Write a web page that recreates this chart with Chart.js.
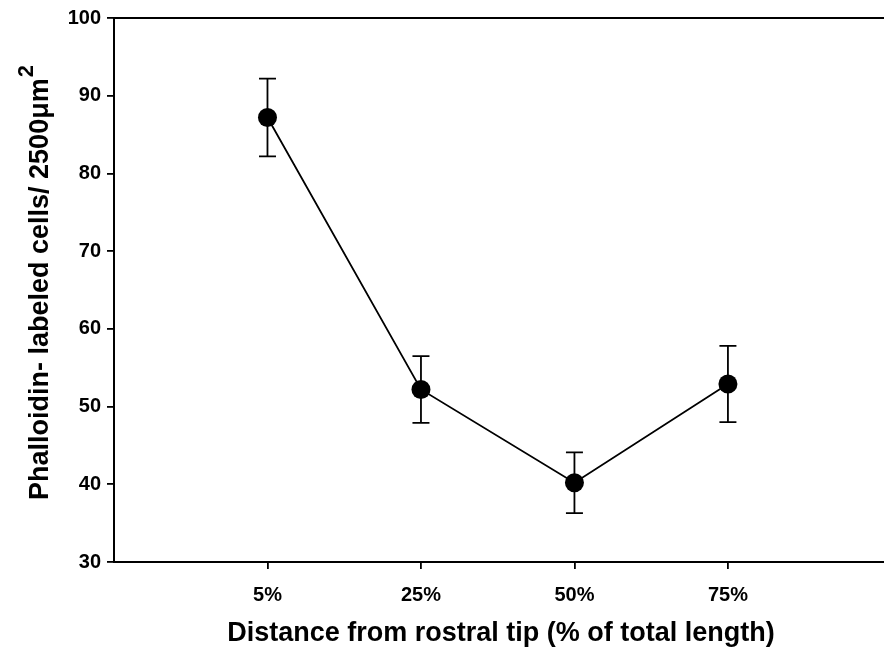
<!DOCTYPE html>
<html>
<head>
<meta charset="utf-8">
<script src="https://cdn.jsdelivr.net/npm/chart.js@4.4.0/dist/chart.umd.min.js"></script>
<style>
  html, body { margin: 0; padding: 0; background: #fff; overflow: hidden; }
  #wrap { width: 884px; height: 652px; }
</style>
</head>
<body>
<div id="wrap"><canvas id="chart" width="884" height="652"></canvas></div>
<script>
// data
var categories = ['5%', '25%', '50%', '75%'];
var positions = [1, 2, 3, 4];
var means = [87.2, 52.2, 40.2, 52.9];
var errors = [5.0, 4.3, 3.9, 4.9];
var yTicks = [30, 40, 50, 60, 70, 80, 90, 100];

var fontFam = '"Liberation Sans", Arial, sans-serif';

var points = positions.map(function (p, i) { return { x: p, y: means[i] }; });

// error bars, frame and axis titles
var extras = {
  id: 'extras',
  afterDatasetsDraw: function (chart) {
    var ctx = chart.ctx, xs = chart.scales.x, ys = chart.scales.y, a = chart.chartArea;
    ctx.save();
    ctx.strokeStyle = '#000';
    ctx.lineWidth = 1.8;
    positions.forEach(function (p, i) {
      var px = xs.getPixelForValue(p);
      var top = ys.getPixelForValue(means[i] + errors[i]);
      var bot = ys.getPixelForValue(means[i] - errors[i]);
      ctx.beginPath();
      ctx.moveTo(px, top); ctx.lineTo(px, bot);
      ctx.moveTo(px - 8.5, top); ctx.lineTo(px + 8.5, top);
      ctx.moveTo(px - 8.5, bot); ctx.lineTo(px + 8.5, bot);
      ctx.stroke();
    });
    // top and bottom frame lines out to the edge
    ctx.lineWidth = 2;
    ctx.beginPath();
    ctx.moveTo(a.left, a.top); ctx.lineTo(chart.width, a.top);
    ctx.moveTo(a.left, a.bottom); ctx.lineTo(chart.width, a.bottom);
    ctx.stroke();

    ctx.fillStyle = '#000';
    // x title
    ctx.font = 'bold 27px ' + fontFam;
    ctx.textAlign = 'center';
    ctx.textBaseline = 'alphabetic';
    ctx.fillText('Distance from rostral tip (% of total length)', 501, 641);

    // y title with superscript
    ctx.translate(48, 500);
    ctx.rotate(-Math.PI / 2);
    ctx.textAlign = 'left';
    var main = 'Phalloidin- labeled cells/ 2500\u03bcm';
    ctx.fillText(main, 0, 0);
    var w = ctx.measureText(main).width;
    ctx.font = 'bold 22px ' + fontFam;
    ctx.fillText('2', w + 1, -15);
    ctx.restore();
  }
};

new Chart(document.getElementById('chart'), {
  type: 'scatter',
  data: {
    datasets: [{
      data: points,
      showLine: true,
      borderColor: '#000',
      borderWidth: 1.8,
      backgroundColor: '#000',
      pointRadius: 9.5,
      pointHoverRadius: 9.5,
      pointBorderWidth: 0,
      tension: 0
    }]
  },
  options: {
    responsive: false,
    animation: false,
    devicePixelRatio: 1,
    layout: { padding: { top: 18, right: 0, left: 0, bottom: 0 } },
    plugins: { legend: { display: false }, tooltip: { enabled: false } },
    scales: {
      x: {
        type: 'linear',
        min: 0,
        max: 4.955,
        afterFit: function (s) { s.height = 90; s.paddingRight = 0; },
        afterBuildTicks: function (s) {
          s.ticks = positions.map(function (p) { return { value: p }; });
        },
        border: { display: true, color: '#000', width: 2 },
        grid: { display: true, drawOnChartArea: false, drawTicks: true, tickLength: 7, color: '#000', lineWidth: 1.8 },
        ticks: {
          color: '#000',
          font: { family: fontFam, size: 20, weight: 'bold' },
          padding: 14,
          maxRotation: 0,
          callback: function (v) {
            var i = positions.indexOf(v);
            return i >= 0 ? categories[i] : '';
          }
        }
      },
      y: {
        min: 30,
        max: 100,
        afterFit: function (s) { s.width = 114; },
        afterBuildTicks: function (s) {
          s.ticks = yTicks.map(function (v) { return { value: v }; });
        },
        border: { display: true, color: '#000', width: 2 },
        grid: { display: true, drawOnChartArea: false, drawTicks: true, tickLength: 7, color: '#000', lineWidth: 1.8 },
        ticks: {
          color: '#000',
          font: { family: fontFam, size: 20, weight: 'bold' },
          padding: 6
        }
      }
    }
  },
  plugins: [extras]
});
</script>
</body>
</html>
